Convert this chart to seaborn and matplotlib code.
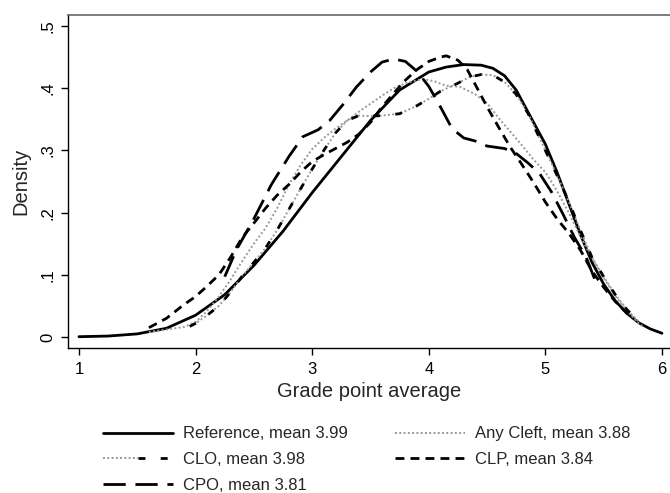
import pandas as pd
import matplotlib
matplotlib.use('Agg')
import matplotlib.pyplot as plt
from matplotlib.legend_handler import HandlerTuple
import seaborn as sns

# Kernel density curves (grade point average vs density)
ref_x = [1.0, 1.25, 1.5, 1.75, 2.0, 2.25, 2.5, 2.75, 3.0, 3.25, 3.5, 3.75, 4.0, 4.15, 4.3,
         4.45, 4.55, 4.65, 4.75, 4.85, 5.0, 5.1, 5.2, 5.3, 5.4, 5.5, 5.6, 5.7, 5.8, 5.9, 6.0]
ref_y = [0.0005, 0.0015, 0.005, 0.014, 0.035, 0.068, 0.115, 0.17, 0.232, 0.29, 0.348, 0.397,
         0.426, 0.434, 0.438, 0.437, 0.432, 0.42, 0.397, 0.362, 0.31, 0.265, 0.215, 0.165,
         0.12, 0.085, 0.058, 0.038, 0.023, 0.013, 0.006]

any_x = [1.6, 1.75, 1.9, 2.0, 2.1, 2.2, 2.3, 2.4, 2.5, 2.6, 2.7, 2.8, 2.9, 3.0, 3.1, 3.2, 3.3,
         3.4, 3.5, 3.6, 3.7, 3.8, 3.95, 4.05, 4.15, 4.27, 4.4, 4.5, 4.6, 4.7, 4.8, 4.9, 5.0,
         5.1, 5.2, 5.3, 5.4, 5.5, 5.6, 5.7, 5.8, 5.85]
any_y = [0.008, 0.012, 0.016, 0.024, 0.042, 0.065, 0.092, 0.122, 0.15, 0.175, 0.207, 0.245,
         0.276, 0.302, 0.32, 0.335, 0.348, 0.362, 0.375, 0.388, 0.4, 0.408, 0.415, 0.411,
         0.404, 0.402, 0.39, 0.376, 0.352, 0.33, 0.308, 0.285, 0.265, 0.235, 0.2, 0.162,
         0.127, 0.095, 0.066, 0.042, 0.022, 0.015]

clo_x = [1.95, 2.0, 2.1, 2.2, 2.3, 2.4, 2.5, 2.6, 2.7, 2.8, 2.9, 3.0, 3.1, 3.2, 3.3, 3.4, 3.5,
         3.6, 3.75, 3.9, 4.0, 4.1, 4.25, 4.35, 4.45, 4.55, 4.65, 4.75, 4.85, 5.0, 5.1, 5.2,
         5.3, 5.4, 5.5, 5.6, 5.7, 5.8]
clo_y = [0.017, 0.022, 0.035, 0.05, 0.072, 0.098, 0.12, 0.143, 0.172, 0.205, 0.238, 0.27,
         0.3, 0.328, 0.348, 0.356, 0.355, 0.356, 0.359, 0.372, 0.383, 0.395, 0.408, 0.418,
         0.422, 0.421, 0.41, 0.39, 0.36, 0.3, 0.26, 0.218, 0.172, 0.128, 0.097, 0.068,
         0.044, 0.025]

clp_x = [1.6, 1.75, 1.9, 2.0, 2.1, 2.2, 2.3, 2.4, 2.5, 2.6, 2.7, 2.8, 2.9, 3.0, 3.1, 3.2, 3.3,
         3.4, 3.5, 3.6, 3.7, 3.8, 3.9, 4.0, 4.1, 4.15, 4.25, 4.33, 4.41, 4.5, 4.6, 4.7, 4.8,
         4.9, 5.0, 5.1, 5.2, 5.3, 5.4, 5.5, 5.6, 5.7, 5.75]
clp_y = [0.015, 0.03, 0.052, 0.065, 0.082, 0.1, 0.128, 0.16, 0.183, 0.207, 0.228, 0.245,
         0.265, 0.282, 0.293, 0.303, 0.313, 0.326, 0.345, 0.37, 0.392, 0.413, 0.43, 0.443,
         0.45, 0.452, 0.445, 0.43, 0.402, 0.37, 0.337, 0.305, 0.277, 0.248, 0.217, 0.19,
         0.167, 0.14, 0.106, 0.08, 0.057, 0.038, 0.03]

cpo_x = [2.25, 2.35, 2.5, 2.65, 2.8, 2.92, 3.05, 3.15, 3.27, 3.38, 3.5, 3.6, 3.7, 3.8, 3.9,
         4.0, 4.1, 4.2, 4.3, 4.4, 4.5, 4.65, 4.75, 4.85, 4.95, 5.05, 5.15, 5.25, 5.35, 5.45]
cpo_y = [0.097, 0.14, 0.19, 0.245, 0.29, 0.322, 0.333, 0.348, 0.375, 0.402, 0.426, 0.442,
         0.447, 0.443, 0.427, 0.403, 0.37, 0.335, 0.32, 0.315, 0.307, 0.303, 0.295, 0.28,
         0.263, 0.234, 0.198, 0.16, 0.128, 0.08]

labels = {
    'ref': 'Reference, mean 3.99',
    'any': 'Any Cleft, mean 3.88',
    'clo': 'CLO, mean 3.98',
    'clp': 'CLP, mean 3.84',
    'cpo': 'CPO, mean 3.81',
}

x_ticks = [1, 2, 3, 4, 5, 6]
y_ticks = [0, 0.1, 0.2, 0.3, 0.4, 0.5]
y_tick_labels = ['0', '.1', '.2', '.3', '.4', '.5']

sns.set_style('ticks')
plt.rcParams['font.family'] = ['Liberation Sans', 'DejaVu Sans']

fig = plt.figure(figsize=(6.7, 4.93), dpi=100)
ax = fig.add_axes([0.1015, 0.2941, 0.8985, 0.6755])

def df_de(xs, ys):
    return pd.DataFrame({'x': xs, 'y': ys})

sns.lineplot(data=df_de(ref_x, ref_y), x='x', y='y', ax=ax, color='black', linewidth=2.0,
             estimator=None)
sns.lineplot(data=df_de(any_x, any_y), x='x', y='y', ax=ax, color='#999999', linewidth=1.4,
             linestyle=(0, (1, 1.2)), estimator=None)
# CLO: gris punteado con trazos negros encima
sns.lineplot(data=df_de(clo_x, clo_y), x='x', y='y', ax=ax, color='#999999', linewidth=1.4,
             linestyle=(0, (1, 1.2)), estimator=None)
sns.lineplot(data=df_de(clo_x, clo_y), x='x', y='y', ax=ax, color='black', linewidth=2.0,
             linestyle=(0, (2.5, 5.5)), estimator=None)
sns.lineplot(data=df_de(clp_x, clp_y), x='x', y='y', ax=ax, color='black', linewidth=2.0,
             linestyle=(0, (3.2, 2.2)), estimator=None)
sns.lineplot(data=df_de(cpo_x, cpo_y), x='x', y='y', ax=ax, color='black', linewidth=2.0,
             linestyle=(0, (8, 3.5)), estimator=None)

lines = ax.get_lines()
h_ref, h_any, h_clo_dots, h_clo_dash, h_clp, h_cpo = lines[:6]

ax.set_xlim(0.906, 6.069)
ax.set_ylim(-0.0177, 0.5177)
ax.set_xticks(x_ticks)
ax.set_xticklabels([str(t) for t in x_ticks])
ax.set_yticks(y_ticks)
ax.set_yticklabels(y_tick_labels, rotation=90, va='center')
ax.tick_params(axis='both', direction='out', length=5, width=1, labelsize=12, colors='black')
ax.tick_params(axis='x', pad=5)
ax.tick_params(axis='y', pad=4)
ax.set_xlabel('Grade point average', fontsize=14.5, labelpad=4)
ax.set_ylabel('Density', fontsize=14.5, labelpad=7)

for side in ['left', 'bottom']:
    ax.spines[side].set_color('black')
    ax.spines[side].set_linewidth(1.0)
ax.spines['top'].set_visible(True)
ax.spines['top'].set_color('#666666')
ax.spines['top'].set_linewidth(1.2)
ax.spines['right'].set_visible(False)

# orden por columnas para que quede fila a fila como en el original
handles = [h_ref, (h_clo_dots, h_clo_dash), h_cpo, h_any, h_clp]
names = [labels['ref'], labels['clo'], labels['cpo'], labels['any'], labels['clp']]
fig.legend(handles, names, loc='upper left', bbox_to_anchor=(0.142, 0.152), ncol=2,
           frameon=False, fontsize=12, handlelength=4.2, handletextpad=0.6,
           columnspacing=2.8, labelspacing=0.65, borderpad=0,
           handler_map={tuple: HandlerTuple(ndivide=None, pad=0)})

fig.savefig('out.png', dpi=100)
